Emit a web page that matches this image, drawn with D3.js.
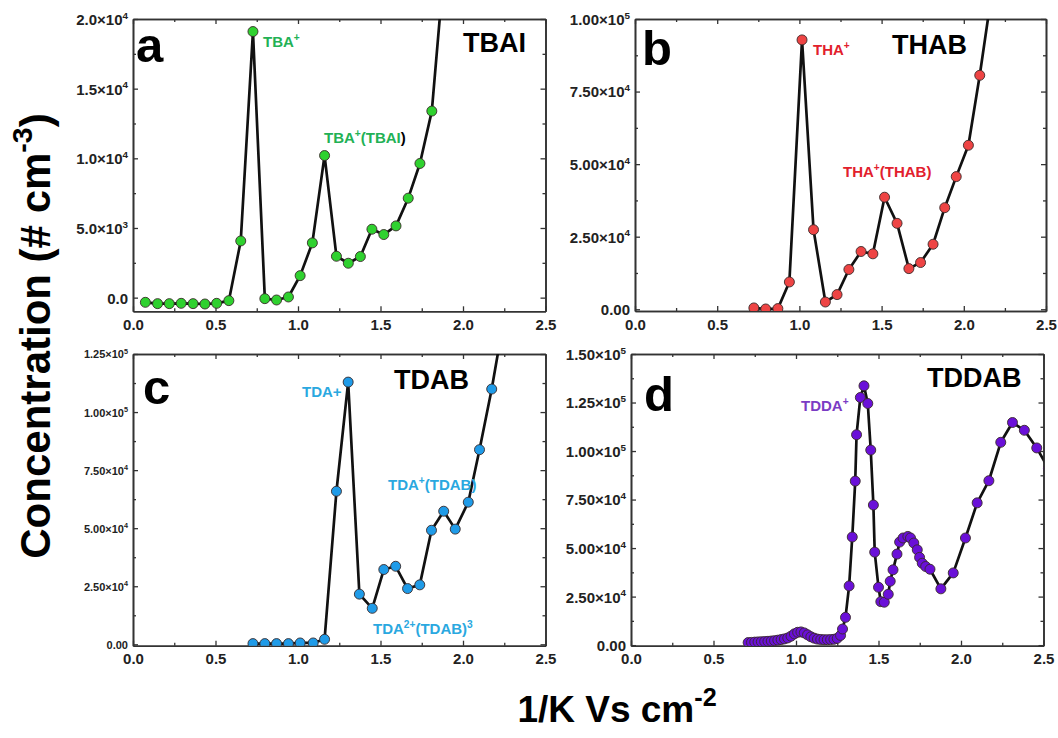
<!DOCTYPE html>
<html><head><meta charset="utf-8">
<script src="https://cdn.jsdelivr.net/npm/d3@7"></script>
<style>
body{margin:0;background:#fff}
svg{display:block}
text{font-family:"Liberation Sans",Arial,Helvetica,sans-serif;font-weight:bold}
</style>
</head><body>
<svg id="chart" width="1058" height="738"></svg>
<script>
// ---- shared x axis ----
const xTicks = [0, 0.5, 1.0, 1.5, 2.0, 2.5];
const xTickLabels = ["0.0", "0.5", "1.0", "1.5", "2.0", "2.5"];

// ---- (a) TBAI ----
const xTBAI = [0.075, 0.149, 0.220, 0.292, 0.364, 0.436, 0.507, 0.581, 0.653, 0.727, 0.799, 0.870, 0.942,
  1.013, 1.087, 1.161, 1.233, 1.305, 1.378, 1.448, 1.520, 1.594, 1.668, 1.739, 1.811, 1.884, 1.956];
const yTBAI = [-335, -430, -430, -407, -430, -455, -407, -215, 4070, 19100, -72, -168, 48,
  1580, 3930, 10200, 2970, 2470, 2950, 4910, 4530, 5150, 7140, 9630, 13390, 23500, 40000];
const yTicksTBAI = [0, 5000, 10000, 15000, 20000];
const yLabelsTBAI = ["0.0", "5.0×10^{3}", "1.0×10^{4}", "1.5×10^{4}", "2.0×10^{4}"];

// ---- (b) THAB ----
const xTHAB = [0.723, 0.795, 0.869, 0.939, 1.016, 1.086, 1.158, 1.229, 1.301, 1.375, 1.447, 1.518, 1.594,
  1.666, 1.737, 1.813, 1.884, 1.954, 2.028, 2.097, 2.170];
const yTHAB = [460, 100, 230, 9400, 92800, 27400, 2500, 5050, 13700, 19900, 19100, 38600, 29600,
  14000, 16100, 22400, 35000, 45700, 56500, 80600, 109000];
const yTicksTHAB = [0, 25000, 50000, 75000, 100000];
const yLabelsTHAB = ["0.00", "2.50×10^{4}", "5.00×10^{4}", "7.50×10^{4}", "1.00×10^{5}"];

// ---- (c) TDAB ----
const xTDAB = [0.727, 0.799, 0.870, 0.942, 1.013, 1.092, 1.161, 1.233, 1.304, 1.372, 1.450, 1.520, 1.592,
  1.664, 1.738, 1.809, 1.883, 1.953, 2.032, 2.100, 2.174, 2.245];
const yTDAB = [300, 300, 300, 300, 580, 580, 2150, 65900, 112900, 21600, 15500, 32200, 33600,
  24000, 25600, 49100, 57300, 49600, 61200, 83800, 109900, 139000];
const yTicksTDAB = [0, 25000, 50000, 75000, 100000, 125000];
const yLabelsTDAB = ["0.00", "2.50×10^{4}", "5.00×10^{4}", "7.50×10^{4}", "1.00×10^{5}", "1.25×10^{5}"];

// ---- (d) TDDAB ----
const xTDDAB = [0.71, 0.73, 0.75, 0.77, 0.79, 0.81, 0.83, 0.85, 0.87, 0.89, 0.91, 0.93, 0.95, 0.97, 0.99,
  1.01, 1.03, 1.05, 1.07, 1.09, 1.11, 1.13, 1.15, 1.17, 1.19, 1.21, 1.23, 1.25, 1.27,
  1.282, 1.300, 1.322, 1.341, 1.359, 1.367, 1.390, 1.412, 1.435, 1.453, 1.469, 1.477, 1.500, 1.514,
  1.535, 1.559, 1.571, 1.588, 1.612, 1.628, 1.649, 1.678, 1.694, 1.714, 1.735, 1.749, 1.765, 1.786,
  1.812, 1.878, 1.953, 2.027, 2.098, 2.169, 2.241, 2.312, 2.384, 2.459, 2.530];
const yTDDAB = [1300, 1400, 1550, 1650, 1750, 1850, 1950, 2100, 2300, 2550, 2850, 3200, 3700, 4600, 5800,
  6600, 6800, 6300, 5300, 4300, 3600, 3100, 2900, 2800, 2800, 2850, 3000, 3500, 5000,
  8300, 14300, 30500, 55700, 84500, 108400, 127600, 133600, 124500, 100500, 72200, 47900, 29800, 22400,
  22100, 26200, 32900, 38800, 46900, 53100, 55200, 56000, 55200, 52600, 49100, 45200, 42200, 40500,
  39100, 29000, 37200, 55200, 73300, 84700, 104500, 114700, 110700, 101600, 91000];
const yTicksTDDAB = [0, 25000, 50000, 75000, 100000, 125000, 150000];
const yLabelsTDDAB = ["0.00", "2.50×10^{4}", "5.00×10^{4}", "7.50×10^{4}", "1.00×10^{5}", "1.25×10^{5}", "1.50×10^{5}"];

// ---- panel layout and styling ----
const panels = [
  { id: "a", name: "TBAI", xs: xTBAI, ys: yTBAI, yTicks: yTicksTBAI, yLabels: yLabelsTBAI,
    box: [133, 19, 545.5, 311.3], yDomain: [-980, 20000], tickFont: 15,
    fill: "#2fd12f", labelColor: "#22b155",
    letterPos: [136, 62], namePos: [463, 52],
    notes: [{ t: "TBA^{+}", x: 263, y: 47 }, { t: "TBA^{+}(TBAI", x: 324, y: 143, tail: ")" }] },
  { id: "b", name: "THAB", xs: xTHAB, ys: yTHAB, yTicks: yTicksTHAB, yLabels: yLabelsTHAB,
    box: [635, 19, 1046, 311], yDomain: [-600, 100000], tickFont: 15,
    fill: "#ee4444", labelColor: "#e2202c",
    letterPos: [642, 65], namePos: [892, 54],
    notes: [{ t: "THA^{+}", x: 813, y: 55 }, { t: "THA^{+}(THAB)", x: 843, y: 177 }] },
  { id: "c", name: "TDAB", xs: xTDAB, ys: yTDAB, yTicks: yTicksTDAB, yLabels: yLabelsTDAB,
    box: [133, 354, 545.5, 645.7], yDomain: [-600, 125000], tickFont: 11,
    fill: "#1f9be8", labelColor: "#2aa8e0",
    letterPos: [143, 404], namePos: [394, 389],
    notes: [{ t: "TDA+", x: 302, y: 397 }, { t: "TDA^{+}(TDAB)", x: 388, y: 490 },
            { t: "TDA^{2+}(TDAB)^{3}", x: 373, y: 634 }] },
  { id: "d", name: "TDDAB", xs: xTDDAB, ys: yTDDAB, yTicks: yTicksTDDAB, yLabels: yLabelsTDDAB,
    box: [631, 354, 1043.5, 645.7], yDomain: [-300, 150000], tickFont: 15,
    fill: "#6a10d8", labelColor: "#7a3cc4",
    letterPos: [644, 411], namePos: [927, 387],
    notes: [{ t: "TDDA^{+}", x: 801, y: 411 }] }
];

const svg = d3.select("#chart");
const axisColor = "#333";

// write "abc^{sup}def" as tspans with raised superscripts
function richText(sel, str, size, supScale = 0.68) {
  const parts = str.split(/(\^\{[^}]*\})/).filter(s => s.length);
  let raised = false;
  parts.forEach(p => {
    if (p.startsWith("^{")) {
      sel.append("tspan").attr("dy", -size * 0.42).attr("font-size", size * supScale).text(p.slice(2, -1));
      raised = true;
    } else {
      const ts = sel.append("tspan").text(p);
      if (raised) { ts.attr("dy", size * 0.42); raised = false; }
    }
  });
}

panels.forEach(p => {
  const [x0, y0, x1, y1] = p.box;
  const x = d3.scaleLinear().domain([0, 2.5]).range([x0, x1]);
  const y = d3.scaleLinear().domain(p.yDomain).range([y1, y0]);
  const g = svg.append("g");

  const clipId = "clip-" + p.id;
  svg.append("clipPath").attr("id", clipId)
    .append("rect").attr("x", x0).attr("y", y0).attr("width", x1 - x0).attr("height", y1 - y0);

  // minor ticks
  const xMinor = d3.range(0.25, 2.5, 0.5);
  const yStep = p.yTicks[1] - p.yTicks[0];
  const yMinor = p.yTicks.map(v => v + yStep / 2).filter(v => v < p.yDomain[1]);
  const styleAxis = a => {
    a.selectAll("path.domain").attr("stroke", axisColor).attr("stroke-width", 1.6);
    a.selectAll(".tick line").attr("stroke", axisColor).attr("stroke-width", 1.3);
  };
  const mk = (gen, ty, tx) => g.append("g").attr("transform", `translate(${tx},${ty})`).call(gen).call(styleAxis);

  mk(d3.axisBottom(x).tickValues(xMinor).tickSize(-3).tickSizeOuter(0).tickFormat(""), y1, 0);
  mk(d3.axisTop(x).tickValues(xMinor).tickSize(-3).tickSizeOuter(0).tickFormat(""), y0, 0);
  mk(d3.axisLeft(y).tickValues(yMinor).tickSize(-3).tickSizeOuter(0).tickFormat(""), 0, x0);
  mk(d3.axisRight(y).tickValues(yMinor).tickSize(-3).tickSizeOuter(0).tickFormat(""), 0, x1);

  const bottom = mk(d3.axisBottom(x).tickValues(xTicks).tickSize(-5).tickSizeOuter(0).tickPadding(8)
    .tickFormat((d, i) => xTickLabels[i]), y1, 0);
  bottom.selectAll("text").attr("font-size", 15).attr("fill", "#222")
    .style("font-family", '"Liberation Sans",Arial,sans-serif').style("font-weight", "bold");
  mk(d3.axisTop(x).tickValues(xTicks).tickSize(-5).tickSizeOuter(0).tickFormat(""), y0, 0);
  const left = mk(d3.axisLeft(y).tickValues(p.yTicks).tickSize(-5).tickSizeOuter(0).tickPadding(4)
    .tickFormat(""), 0, x0);
  left.selectAll(".tick").each(function (d, i) {
    const t = d3.select(this).append("text")
      .attr("x", -5).attr("dy", "0.36em").attr("text-anchor", "end")
      .attr("font-size", p.tickFont).attr("fill", "#222")
      .style("font-family", '"Liberation Sans",Arial,sans-serif').style("font-weight", "bold");
    richText(t, p.yLabels[i], p.tickFont, 0.66);
  });
  mk(d3.axisRight(y).tickValues(p.yTicks).tickSize(-5).tickSizeOuter(0).tickFormat(""), 0, x1);

  // series: connecting line then markers
  const pts = p.xs.map((v, i) => [v, p.ys[i]]);
  const plot = g.append("g").attr("clip-path", `url(#${clipId})`);
  plot.append("path").datum(pts)
    .attr("fill", "none").attr("stroke", "#111").attr("stroke-width", 2.7).attr("stroke-linejoin", "round")
    .attr("d", d3.line().x(d => x(d[0])).y(d => y(d[1])));
  plot.selectAll("circle").data(pts).join("circle")
    .attr("cx", d => x(d[0])).attr("cy", d => y(d[1])).attr("r", 5)
    .attr("fill", p.fill).attr("stroke", "#3a2a2a").attr("stroke-width", 0.9);

  // panel letter and sample name
  svg.append("text").attr("x", p.letterPos[0]).attr("y", p.letterPos[1])
    .attr("font-size", 49).attr("fill", "#000").text(p.id);
  svg.append("text").attr("x", p.namePos[0]).attr("y", p.namePos[1])
    .attr("font-size", 27).attr("fill", "#000").text(p.name);

  // peak annotations
  p.notes.forEach(n => {
    const t = svg.append("text").attr("x", n.x).attr("y", n.y)
      .attr("font-size", 15).attr("fill", p.labelColor);
    richText(t, n.t, 15);
    if (n.tail) t.append("tspan").attr("fill", "#000").text(n.tail);
  });
});

// shared axis titles
const yt = svg.append("text").attr("transform", "translate(50,336) rotate(-90)")
  .attr("text-anchor", "middle").attr("font-size", 42).attr("fill", "#000");
richText(yt, "Concentration (# cm^{-3})", 42);
const xt = svg.append("text").attr("x", 617).attr("y", 722)
  .attr("text-anchor", "middle").attr("font-size", 37).attr("fill", "#000");
richText(xt, "1/K Vs cm^{-2}", 37);
</script>
</body></html>
